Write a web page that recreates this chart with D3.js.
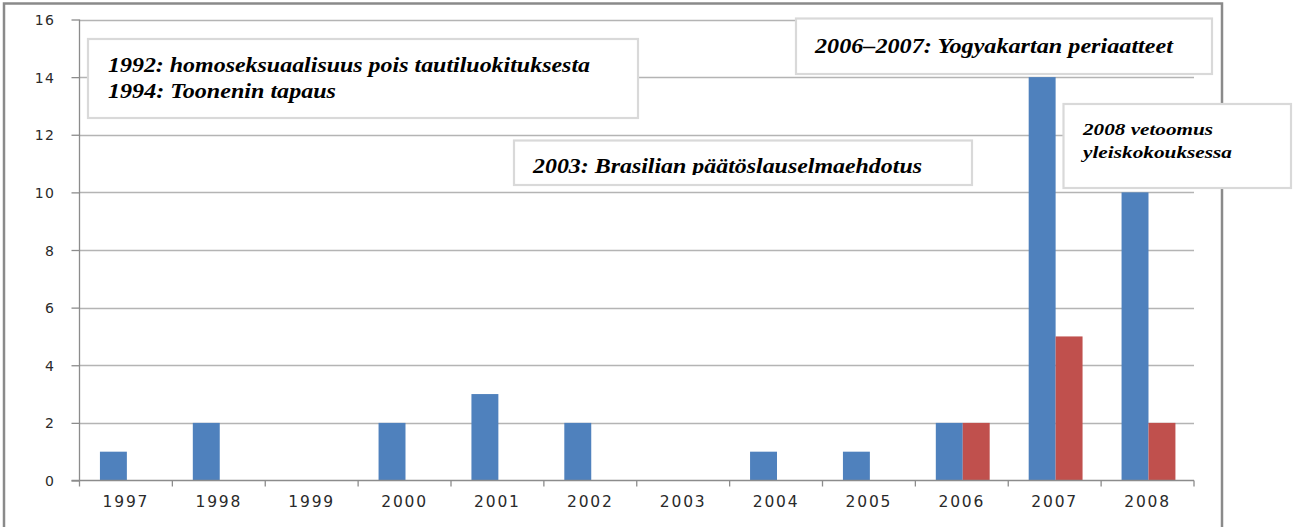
<!DOCTYPE html>
<html>
<head>
<meta charset="utf-8">
<script src="https://cdn.jsdelivr.net/npm/d3@7"></script>
<style>
html,body{margin:0;padding:0;background:#fff;}
svg{display:block;}
</style>
</head>
<body>
<svg id="chart" width="1296" height="527"></svg>
<script>
const categories = ["1997","1998","1999","2000","2001","2002","2003","2004","2005","2006","2007","2008"];
const seriesBlue = [1,2,0,2,3,2,0,1,1,2,14,10];
const seriesRed  = [0,0,0,0,0,0,0,0,0,2,5,2];
const yTicks = [0,2,4,6,8,10,12,14,16];
const notes = [
  {lines:["1992: homoseksuaalisuus pois tautiluokituksesta","1994: Toonenin tapaus"]},
  {lines:["2006–2007: Yogyakartan periaatteet"]},
  {lines:["2003: Brasilian päätöslauselmaehdotus"]},
  {lines:["2008 vetoomus","yleiskokouksessa"]}
];

const svg = d3.select("#chart");
svg.append("rect").attr("width",1296).attr("height",527).attr("fill","#fff");

const L = 79.5, R = 1194, T = 19.5, B = 480.5;
const x = d3.scaleBand().domain(categories).range([L,R]).paddingInner(0).paddingOuter(0);
const y = d3.scaleLinear().domain([0,16]).range([B,T]);
const bw = x.bandwidth();
const barW = bw*0.29;
const off = bw*0.22;

// outer frame
svg.append("rect").attr("x",4).attr("y",3.5).attr("width",1218).attr("height",560)
  .attr("fill","none").attr("stroke","#8a8a8a").attr("stroke-width",2.5);

// gridlines
svg.append("g").selectAll("line").data(yTicks.filter(d=>d>0)).join("line")
  .attr("x1",L).attr("x2",R).attr("y1",d=>Math.round(y(d))+0.5).attr("y2",d=>Math.round(y(d))+0.5)
  .attr("stroke","#b4b4b4").attr("stroke-width",1.3);

// y axis
const yAxis = d3.axisLeft(y).tickValues(yTicks).tickSize(8).tickPadding(16).tickFormat(d3.format("d"));
const gy = svg.append("g").attr("transform",`translate(${L},0)`).call(yAxis);
gy.select(".domain").attr("stroke","#8c8c8c").attr("stroke-width",1.3).attr("d",`M0,${T}V${B}`);
gy.selectAll(".tick line").attr("stroke","#8c8c8c").attr("stroke-width",1.3);
gy.selectAll(".tick text").attr("fill","#2a2a2a").style("font-family","'DejaVu Sans',Verdana,sans-serif")
  .style("font-size","14px").style("letter-spacing","1.5px").attr("dy","0.36em");

// bars
const gb = svg.append("g");
gb.selectAll("rect.b").data(categories).join("rect").attr("class","b")
  .attr("x",(d)=>x(d)+off).attr("width",barW)
  .attr("y",(d,i)=>y(seriesBlue[i])).attr("height",(d,i)=>B-y(seriesBlue[i]))
  .attr("fill","#4f81bd");
gb.selectAll("rect.r").data(categories).join("rect").attr("class","r")
  .attr("x",(d)=>x(d)+off+barW).attr("width",barW)
  .attr("y",(d,i)=>y(seriesRed[i])).attr("height",(d,i)=>B-y(seriesRed[i]))
  .attr("fill","#c0504d");

// x axis
const xAxis = d3.axisBottom(x).tickSize(0).tickPadding(15);
const gx = svg.append("g").attr("transform",`translate(0,${B})`).call(xAxis);
gx.select(".domain").attr("stroke","#8c8c8c").attr("stroke-width",1.3).attr("d",`M${L-8},0H${R}`);
gx.selectAll(".tick text").attr("fill","#2a2a2a").style("font-family","'DejaVu Sans',Verdana,sans-serif")
  .style("font-size","15.5px").style("letter-spacing","1.8px").attr("dy","0.71em");
gx.append("g").selectAll("line").data(categories.concat(["end"])).join("line")
  .attr("x1",(d,i)=>L+i*bw).attr("x2",(d,i)=>L+i*bw).attr("y1",0).attr("y2",6)
  .attr("stroke","#8c8c8c").attr("stroke-width",1.3);

// annotation boxes
const boxes = [
  {x:88, y:39, w:550, h:79, tx:108, base:[72,98], fs:22, widths:[482,228]},
  {x:796, y:18.5, w:416, h:55.5, tx:815, base:[53], fs:22, widths:[358]},
  {x:514, y:140.5, w:458, h:44.5, tx:533, base:[173], fs:22, widths:[389], clip:true},
  {x:1063.5, y:104, w:227.5, h:84, tx:1083, base:[135,158], fs:17, widths:[130,149]}
];
const defs = svg.append("defs");
boxes.forEach((b,i)=>{
  const g = svg.append("g");
  g.append("rect").attr("x",b.x).attr("y",b.y).attr("width",b.w).attr("height",b.h)
    .attr("fill","#fff").attr("stroke","#d9d9d9").attr("stroke-width",2.2);
  const tg = g.append("g");
  if(b.clip){
    defs.append("clipPath").attr("id","clip"+i).append("rect")
      .attr("x",b.x).attr("y",b.y).attr("width",b.w).attr("height",175-b.y);
    tg.attr("clip-path",`url(#clip${i})`);
  }
  notes[i].lines.forEach((t,j)=>{
    tg.append("text").attr("x",b.tx).attr("y",b.base[j])
      .attr("fill","#000").style("font-family","'Liberation Serif','Times New Roman',serif")
      .style("font-weight","bold").style("font-style","italic").style("font-size",b.fs+"px")
      .attr("textLength",b.widths[j]).attr("lengthAdjust","spacingAndGlyphs").text(t);
  });
});
</script>
</body>
</html>
